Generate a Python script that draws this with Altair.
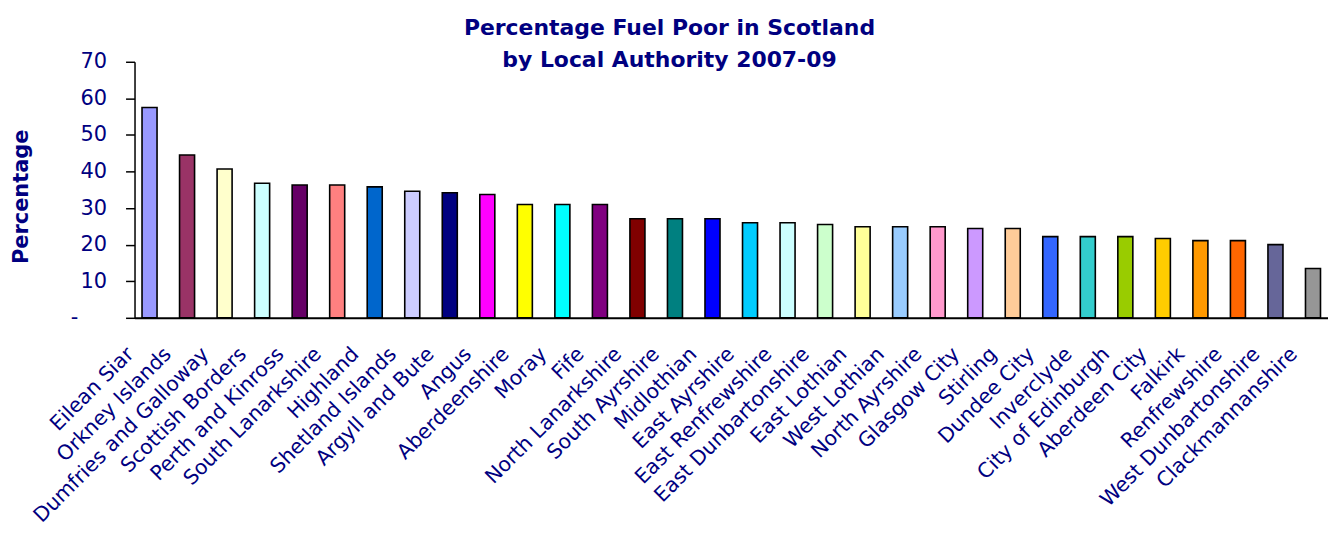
import altair as alt
import pandas as pd

authorities = [
    "Eilean Siar", "Orkney Islands", "Dumfries and Galloway", "Scottish Borders",
    "Perth and Kinross", "South Lanarkshire", "Highland", "Shetland Islands",
    "Argyll and Bute", "Angus", "Aberdeenshire", "Moray", "Fife",
    "North Lanarkshire", "South Ayrshire", "Midlothian", "East Ayrshire",
    "East Renfrewshire", "East Dunbartonshire", "East Lothian", "West Lothian",
    "North Ayrshire", "Glasgow City", "Stirling", "Dundee City", "Inverclyde",
    "City of Edinburgh", "Aberdeen City", "Falkirk", "Renfrewshire",
    "West Dunbartonshire", "Clackmannanshire",
]
fuel_poor_pct = [
    57.5, 44.5, 40.7, 36.8, 36.3, 36.3, 35.8, 34.6,
    34.2, 33.7, 31.0, 31.0, 31.0, 27.1, 27.1, 27.1,
    26.0, 26.0, 25.5, 24.9, 24.9, 24.9, 24.4, 24.4,
    22.2, 22.2, 22.2, 21.7, 21.1, 21.1, 20.0, 13.5,
]
bar_colors = [
    "#9999FF", "#993366", "#FFFFCC", "#CCFFFF", "#660066", "#FF8080", "#0066CC", "#CCCCFF",
    "#000080", "#FF00FF", "#FFFF00", "#00FFFF", "#800080", "#800000", "#008080", "#0000FF",
    "#00CCFF", "#CCFFFF", "#CCFFCC", "#FFFF99", "#99CCFF", "#FF99CC", "#CC99FF", "#FFCC99",
    "#3366FF", "#33CCCC", "#99CC00", "#FFCC00", "#FF9900", "#FF6600", "#666699", "#969696",
]
y_ticks = [0, 10, 20, 30, 40, 50, 60, 70]
title_lines = ["Percentage Fuel Poor in Scotland", "by Local Authority 2007-09"]

df = pd.DataFrame({"Authority": authorities, "Percentage": fuel_poor_pct})

NAVY = "#000080"
FONT = "DejaVu Sans"

chart = alt.Chart(df).mark_bar(stroke="black", strokeWidth=1.6).encode(
    x=alt.X(
        "Authority:N",
        sort=authorities,
        scale=alt.Scale(paddingInner=0.6, paddingOuter=0.2),
        axis=alt.Axis(
            title=None,
            labelAngle=-45,
            labelAlign="right",
            labelBaseline="middle",
            labelOffset=-19,
            labelPadding=33,
            ticks=False,
            tickSize=0,
            labelFont=FONT,
            labelFontSize=20.5,
            labelColor=NAVY,
            labelLimit=400,
            labelOverlap=False,
            domainColor="black",
            domainWidth=2,
        ),
    ),
    y=alt.Y(
        "Percentage:Q",
        scale=alt.Scale(domain=[0, 70], nice=False),
        axis=alt.Axis(
            title="Percentage",
            values=y_ticks,
            labelExpr="datum.value == 0 ? '-' : datum.label",
            labelOverlap=False,
            grid=False,
            tickSize=9,
            tickColor="black",
            tickWidth=1.5,
            domainColor="black",
            domainWidth=1.5,
            labelPadding={"condition": {"test": "datum.value == 0", "value": 48}, "value": 19},
            labelFont=FONT,
            labelFontSize=21,
            labelColor=NAVY,
            titleFont=FONT,
            titleFontSize=21,
            titleFontWeight="bold",
            titleColor=NAVY,
            titleAngle=270,
            titleX=-113,
            titleY=135,
            titleAlign="center",
            titleBaseline="middle",
        ),
    ),
    color=alt.Color(
        "Authority:N",
        scale=alt.Scale(domain=authorities, range=bar_colors),
        legend=None,
    ),
).properties(
    width=1198,
    height=257,
    title=alt.TitleParams(
        text=title_lines,
        font=FONT,
        fontSize=22,
        fontWeight="bold",
        color=NAVY,
        anchor="middle",
        dx=-62,
        dy=25,
        lineHeight=32,
    ),
    padding={"left": 127, "top": 53, "right": 0, "bottom": 211},
    autosize=alt.AutoSizeParams(type="none"),
).configure_view(stroke=None)

chart.save("out.html", embed_options={"renderer": "svg", "actions": False})
